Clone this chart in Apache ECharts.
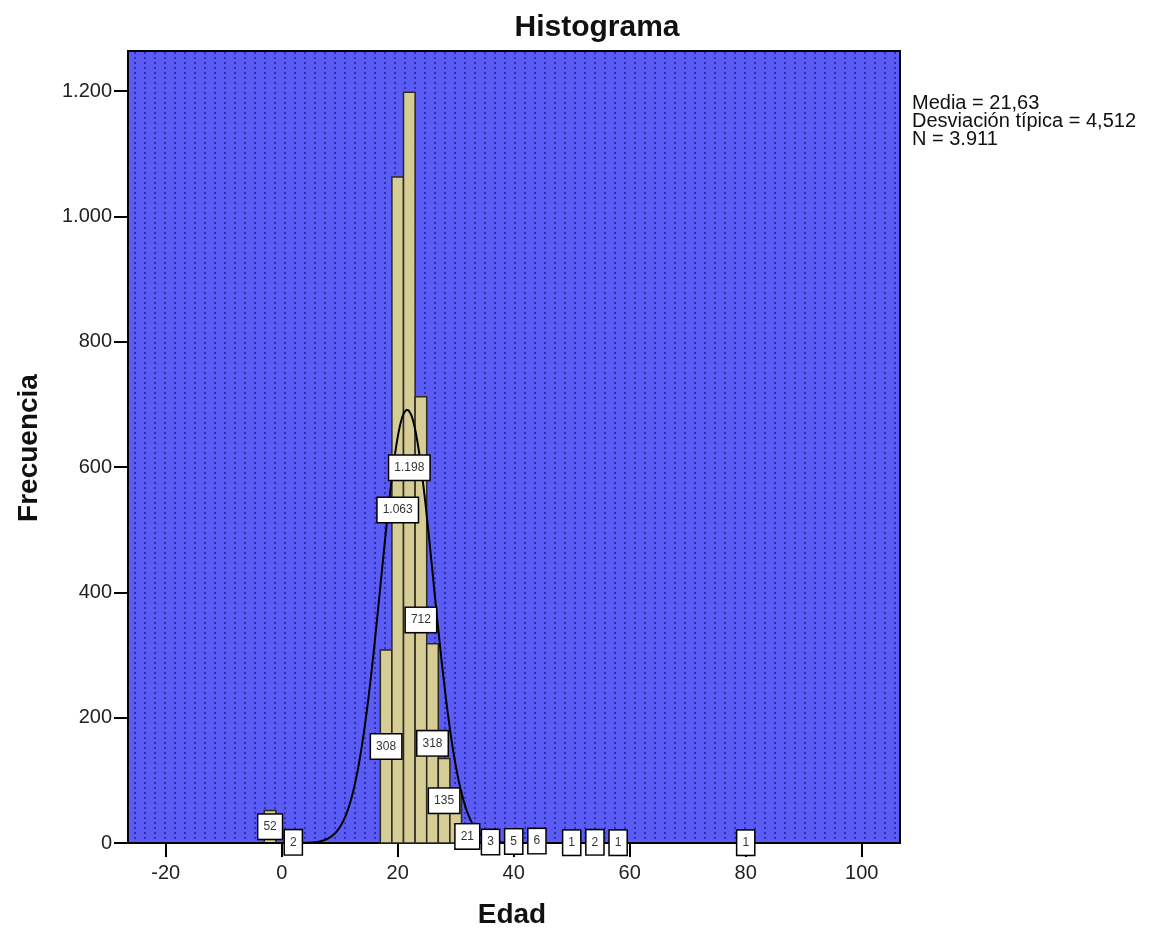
<!DOCTYPE html>
<html><head><meta charset="utf-8">
<script src="https://cdn.jsdelivr.net/npm/echarts@6/dist/echarts.min.js"></script>
<style>html,body{margin:0;padding:0;background:#fff}#c{width:1152px;height:930px}</style>
</head><body><div id="c"></div>
<script>
// ---- data ----
const binCenters = [-2, 2, 18, 20, 22, 24, 26, 28, 30, 32, 36, 40, 44, 50, 54, 58, 80];
const binCounts  = [52, 2, 308, 1063, 1198, 712, 318, 135, 83, 21, 3, 5, 6, 1, 2, 1, 1];
const hiddenLabelBins = [30];
const binWidth = 2;
const xTickValues = [-20, 0, 20, 40, 60, 80, 100];
const yTickValues = [0, 200, 400, 600, 800, 1000, 1200];
const statMean = 21.63;
const statSD = 4.512;
const statN = 3911;
const statLines = ['Media = 21,63', 'Desviación típica = 4,512', 'N = 3.911'];
const titleText = 'Histograma';
const xName = 'Edad';
const yName = 'Frecuencia';

const X_MIN = -26.5, X_MAX = 106.6, Y_MAX = 1264;

function fmt(v) { return String(v).replace(/\B(?=(\d{3})+(?!\d))/g, '.'); }

// fitted normal curve defined by the displayed mean / SD / N
const curve = [];
const peak = statN * binWidth / (statSD * Math.sqrt(2 * Math.PI));
for (let x = X_MIN; x <= X_MAX; x += 0.2) {
  const z = (x - statMean) / statSD;
  curve.push([x, peak * Math.exp(-0.5 * z * z)]);
}

// dotted blue background pattern
const pc = document.createElement('canvas');
pc.width = 10; pc.height = 5;
const pctx = pc.getContext('2d');
pctx.fillStyle = '#5b5bf6'; pctx.fillRect(0, 0, 10, 5);
pctx.fillStyle = '#2f2fa6'; pctx.fillRect(4, 2, 2, 2);

const FONT = '"Liberation Sans", Arial, sans-serif';
const chart = echarts.init(document.getElementById('c'), null, {renderer: 'canvas'});
const barData = binCenters.map((c, i) => [c, binCounts[i]]);
const labelData = barData.filter(d => hiddenLabelBins.indexOf(d[0]) < 0);

chart.setOption({
  animation: false,
  grid: {left: 128, right: 252, top: 51, bottom: 87, show: true,
         borderColor: '#000', borderWidth: 2,
         backgroundColor: {image: pc, repeat: 'repeat'}},
  xAxis: {type: 'value', min: X_MIN, max: X_MAX,
    axisLine: {show: true, onZero: false, lineStyle: {color: '#000', width: 2}},
    axisTick: {show: true, inside: false, customValues: xTickValues, length: 14, lineStyle: {color: '#000', width: 2}},
    axisLabel: {customValues: xTickValues, fontSize: 20, fontFamily: FONT, color: '#222', margin: 20,
      formatter: v => String(Math.round(v))},
    splitLine: {show: false}},
  yAxis: {type: 'value', min: 0, max: Y_MAX,
    axisLine: {show: true, onZero: false, lineStyle: {color: '#000', width: 2}},
    axisTick: {show: true, inside: false, customValues: yTickValues, length: 14, lineStyle: {color: '#000', width: 2}},
    axisLabel: {customValues: yTickValues, fontSize: 20, fontFamily: FONT, color: '#222', margin: 16,
      formatter: v => fmt(Math.round(v))},
    splitLine: {show: false}},
  series: [
    {type: 'custom', data: barData, z: 2,
     renderItem: (params, api) => {
       const x = api.value(0), v = api.value(1);
       const p0 = api.coord([x - binWidth / 2, v]);
       const p1 = api.coord([x + binWidth / 2, 0]);
       return {type: 'rect', shape: {x: p0[0], y: p0[1], width: p1[0] - p0[0], height: p1[1] - p0[1]},
               style: {fill: '#d6cc95', stroke: '#2a2a1e', lineWidth: 1.5}};
     }},
    {type: 'line', data: curve, showSymbol: false, z: 3, clip: true,
     lineStyle: {color: '#000', width: 2}},
    {type: 'custom', data: labelData, z: 5,
     renderItem: (params, api) => {
       const x = api.value(0), v = api.value(1);
       const c = api.coord([x, v / 2]);
       return {type: 'text', x: c[0], y: c[1], z2: 10,
               style: {text: fmt(v), fill: '#333', font: '12px ' + FONT, align: 'center', verticalAlign: 'middle',
                       backgroundColor: '#fff', borderColor: '#000', borderWidth: 1.5, padding: [6, 5]}};
     }}
  ],
  graphic: [
    {type: 'text', x: 597, y: 28, style: {text: titleText, font: 'bold 30px ' + FONT, fill: '#111', align: 'center', verticalAlign: 'middle'}},
    {type: 'text', x: 512, y: 915, style: {text: xName, font: 'bold 28px ' + FONT, fill: '#111', align: 'center', verticalAlign: 'middle'}},
    {type: 'text', x: 29, y: 448, rotation: Math.PI / 2, style: {text: yName, font: 'bold 28px ' + FONT, fill: '#111', align: 'center', verticalAlign: 'middle'}},
    {type: 'text', x: 912, y: 94, style: {text: statLines.join('\n'), font: '20px ' + FONT, lineHeight: 18, fill: '#111', align: 'left', verticalAlign: 'top'}}
  ]
});
</script></body></html>
